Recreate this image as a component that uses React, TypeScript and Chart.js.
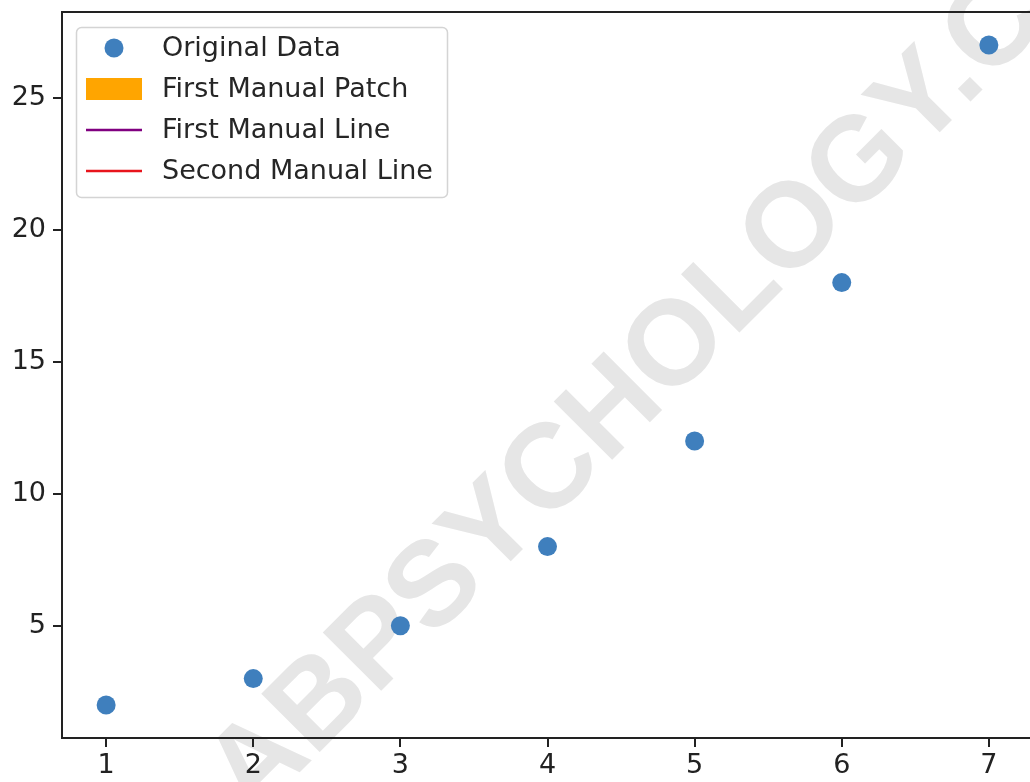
import React, { useEffect, useRef } from "react";
import { Chart, registerables } from "chart.js";

Chart.register(...registerables);

const xValues = [1, 2, 3, 4, 5, 6, 7];
const yValues = [2, 3, 5, 8, 12, 18, 27];
const xTicks = [1, 2, 3, 4, 5, 6, 7];
const yTicks = [5, 10, 15, 20, 25];
const legendLabels = ["Original Data", "First Manual Patch", "First Manual Line", "Second Manual Line"];
const legendKinds = ["dot", "patch", "line", "line"];
const legendColors = ["#3f7fbd", "#ffa500", "#800080", "#e8141c"];
const watermarkText = "LABPSYCHOLOGY.COM";

const FONT = '"DejaVu Sans", sans-serif';

const watermarkPlugin = {
  id: "watermark",
  beforeDraw(chart: any) {
    const ctx = chart.ctx;
    ctx.save();
    ctx.font = 'bold 120px "Liberation Sans", Arial, sans-serif';
    ctx.fillStyle = "#e6e6e6";
    ctx.textBaseline = "alphabetic";
    ctx.textAlign = "left";
    ctx.rotate(-Math.PI / 4);
    const wA = ctx.measureText("LABPSYCH").width;
    const wO = ctx.measureText("O").width;
    const s0 = 233 - wA - wO / 2;
    ctx.fillText(watermarkText, s0, 758);
    ctx.restore();
  },
};

const framePlugin = {
  id: "frame",
  afterDraw(chart: any) {
    const { ctx, chartArea } = chart;
    ctx.save();
    ctx.strokeStyle = "#222";
    ctx.lineWidth = 2;
    ctx.beginPath();
    ctx.moveTo(chartArea.left - 1, chartArea.top);
    ctx.lineTo(chartArea.right, chartArea.top);
    ctx.lineTo(chartArea.right, chartArea.bottom);
    ctx.stroke();
    ctx.restore();
  },
};

const legendPlugin = {
  id: "mplLegend",
  afterDraw(chart: any) {
    const ctx = chart.ctx;
    ctx.save();
    const bx = 76.5, by = 27.5, bw = 371, bh = 170;
    ctx.beginPath();
    ctx.roundRect(bx, by, bw, bh, 5);
    ctx.fillStyle = "rgba(255,255,255,0.85)";
    ctx.fill();
    ctx.strokeStyle = "#d4d4d4";
    ctx.lineWidth = 1.5;
    ctx.stroke();
    ctx.font = "27px " + FONT;
    ctx.textBaseline = "middle";
    ctx.textAlign = "left";
    legendLabels.forEach((label, i) => {
      const cy = 48 + i * 41;
      const kind = legendKinds[i];
      const color = legendColors[i];
      if (kind === "dot") {
        ctx.beginPath();
        ctx.arc(114, cy, 9.5, 0, Math.PI * 2);
        ctx.fillStyle = color;
        ctx.fill();
      } else if (kind === "patch") {
        ctx.fillStyle = color;
        ctx.fillRect(86, cy - 11, 56, 22);
      } else {
        ctx.strokeStyle = color;
        ctx.lineWidth = 2.6;
        ctx.beginPath();
        ctx.moveTo(86, cy);
        ctx.lineTo(142, cy);
        ctx.stroke();
      }
      ctx.fillStyle = "#262626";
      ctx.fillText(label, 162, cy + 1);
    });
    ctx.restore();
  },
};

const zeroPad = (s: any) => {
  s.paddingTop = 0;
  s.paddingBottom = 0;
  s.paddingLeft = 0;
  s.paddingRight = 0;
};

export default function App() {
  const ref = useRef<HTMLCanvasElement | null>(null);

  useEffect(() => {
    if (!ref.current) return;
    const chart = new Chart(ref.current, {
      type: "scatter",
      data: {
        datasets: [
          {
            label: legendLabels[0],
            data: xValues.map((x, i) => ({ x, y: yValues[i] })),
            backgroundColor: legendColors[0],
            borderWidth: 0,
            pointRadius: 9.5,
            pointHoverRadius: 9.5,
          },
        ],
      },
      options: {
        responsive: false,
        animation: false,
        devicePixelRatio: 1,
        layout: { padding: { top: 12, right: 10, left: 0, bottom: 0 } },
        plugins: {
          legend: { display: false },
          tooltip: { enabled: false },
        },
        events: [],
        scales: {
          x: {
            type: "linear",
            min: 0.7,
            max: 7.3,
            afterBuildTicks: (s: any) => {
              s.ticks = xTicks.map((v) => ({ value: v }));
            },
            afterFit: (s: any) => {
              s.height = 44;
              zeroPad(s);
            },
            grid: { drawOnChartArea: false, drawTicks: true, tickLength: 9, color: "#222", lineWidth: 2 },
            border: { display: true, color: "#222", width: 2 },
            ticks: {
              font: { family: FONT, size: 27 },
              color: "#222",
              padding: 3,
              maxRotation: 0,
              autoSkip: false,
              callback: (v: any) => String(v),
            },
          },
          y: {
            type: "linear",
            min: 0.75,
            max: 28.25,
            afterBuildTicks: (s: any) => {
              s.ticks = yTicks.map((v) => ({ value: v }));
            },
            afterFit: (s: any) => {
              s.width = 62;
              zeroPad(s);
            },
            grid: { drawOnChartArea: false, drawTicks: true, tickLength: 9, color: "#222", lineWidth: 2 },
            border: { display: true, color: "#222", width: 2 },
            ticks: {
              font: { family: FONT, size: 27 },
              color: "#222",
              padding: 7,
              autoSkip: false,
              callback: (v: any) => String(v),
            },
          },
        },
      },
      plugins: [watermarkPlugin, framePlugin, legendPlugin],
    } as any);
    return () => chart.destroy();
  }, []);

  return (
    <div
      style={{
        position: "absolute",
        left: 0,
        top: 0,
        width: 1030,
        height: 782,
        overflow: "hidden",
        background: "#fff",
      }}
    >
      <canvas ref={ref} width={1043} height={782} style={{ width: 1043, height: 782, display: "block" }} />
    </div>
  );
}
